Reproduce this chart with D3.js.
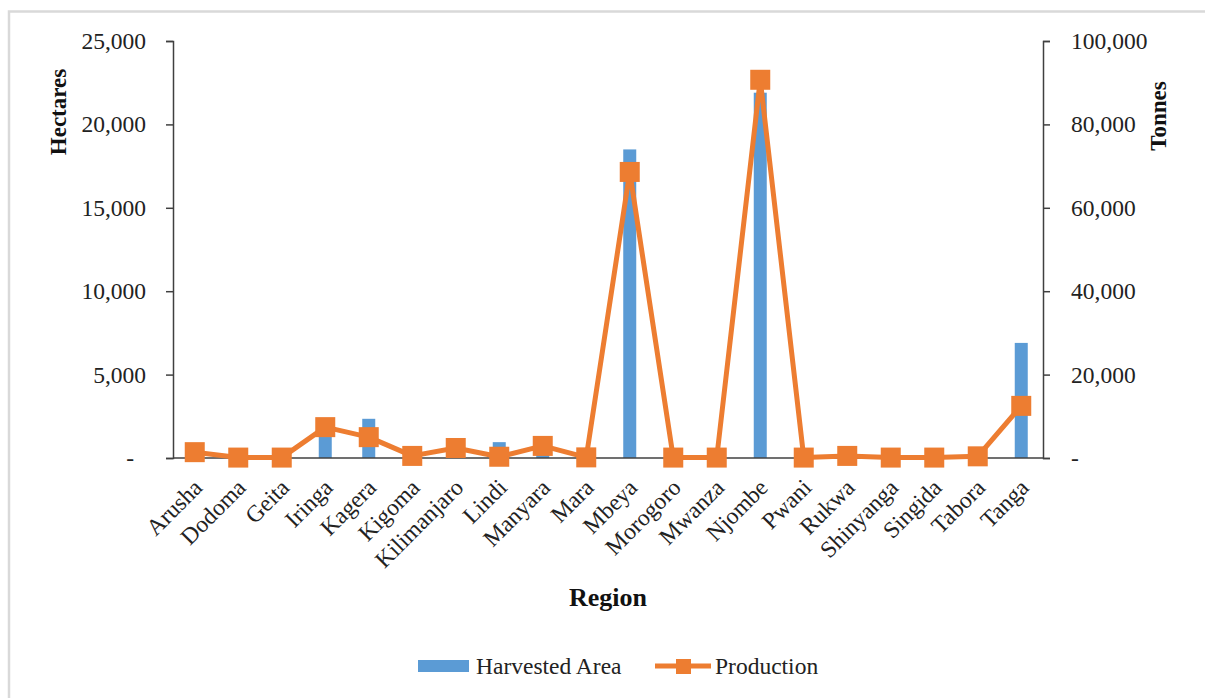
<!DOCTYPE html>
<html><head><meta charset="utf-8">
<script src="https://cdn.jsdelivr.net/npm/d3@7"></script>
<style>
html,body{margin:0;padding:0;background:#fff;}
svg text{font-family:"Liberation Serif","Times New Roman",serif;}
</style></head>
<body>
<svg id="chart" width="1205" height="698"></svg>
<script>
const regions = ["Arusha","Dodoma","Geita","Iringa","Kagera","Kigoma","Kilimanjaro","Lindi","Manyara","Mara","Mbeya","Morogoro","Mwanza","Njombe","Pwani","Rukwa","Shinyanga","Singida","Tabora","Tanga"];
const harvestedArea = [400,20,30,1900,2350,150,700,950,700,50,18500,30,10,21900,20,150,20,30,150,6900];
const production = [1400,100,100,7400,5000,500,2400,300,2900,150,68600,100,100,90700,100,500,100,100,400,12500];
const leftTicks = [0,5000,10000,15000,20000,25000];
const rightTicks = [0,20000,40000,60000,80000,100000];

const svg = d3.select("#chart");
const L = 173, R = 1043, T = 41, B = 458;
const blue = "#5B9BD5", orange = "#ED7D31", axisCol = "#404040";
const fs = 23.5;

// outer frame
svg.append("rect").attr("x",9).attr("y",11.5).attr("width",1220).attr("height",720)
  .attr("fill","none").attr("stroke","#d9d9d9").attr("stroke-width",2.5);

const x = d3.scaleBand().domain(regions).range([L,R]).padding(0);
const yL = d3.scaleLinear().domain([0,25000]).range([B,T]);
const yR = d3.scaleLinear().domain([0,100000]).range([B,T]);
const fmt = d => d === 0 ? "-" : d3.format(",")(d);

// bars
const bw = 13;
svg.append("g").selectAll("rect").data(regions).join("rect")
  .attr("x", d => x(d) + x.bandwidth()/2 - bw/2)
  .attr("y", (d,i) => yL(harvestedArea[i]))
  .attr("width", bw)
  .attr("height", (d,i) => B - yL(harvestedArea[i]))
  .attr("fill", blue);

// left axis
const gL = svg.append("g").attr("transform",`translate(${L},0)`)
  .call(d3.axisLeft(yL).tickValues(leftTicks).tickFormat(fmt).tickSize(7).tickPadding(20));
gL.select(".domain").attr("stroke",axisCol).attr("stroke-width",1.5);
gL.selectAll(".tick line").attr("stroke",axisCol).attr("stroke-width",1.5);
gL.selectAll(".tick text").attr("font-size",fs).attr("fill","#222")
  .attr("font-family","Liberation Serif, Times New Roman, serif")
  .attr("dx", d => d === 0 ? -12 : 0);

// right axis
const gR = svg.append("g").attr("transform",`translate(${R},0)`)
  .call(d3.axisRight(yR).tickValues(rightTicks).tickFormat(fmt).tickSize(7).tickPadding(21));
gR.select(".domain").attr("stroke",axisCol).attr("stroke-width",1.5);
gR.selectAll(".tick line").attr("stroke",axisCol).attr("stroke-width",1.5);
gR.selectAll(".tick text").attr("font-size",fs).attr("fill","#222")
  .attr("font-family","Liberation Serif, Times New Roman, serif");

// x axis baseline
svg.append("line").attr("x1",L).attr("x2",R).attr("y1",B).attr("y2",B)
  .attr("stroke",axisCol).attr("stroke-width",1.5);

// x labels
svg.append("g").selectAll("text").data(regions).join("text")
  .attr("transform", d => `translate(${x(d)+x.bandwidth()/2+9},${B+31}) rotate(-45)`)
  .attr("text-anchor","end")
  .attr("font-size",fs).attr("fill","#222")
  .text(d => d);

// production line
const line = d3.line().x((d,i) => x(regions[i]) + x.bandwidth()/2).y(d => yR(d));
svg.append("path").datum(production).attr("d", line)
  .attr("fill","none").attr("stroke",orange).attr("stroke-width",5).attr("stroke-linejoin","round");
const ms = 20;
svg.append("g").selectAll("rect").data(production).join("rect")
  .attr("x",(d,i) => x(regions[i]) + x.bandwidth()/2 - ms/2)
  .attr("y", d => yR(d) - ms/2)
  .attr("width",ms).attr("height",ms).attr("fill",orange);

// axis titles
svg.append("text").attr("transform","translate(66,112) rotate(-90)")
  .attr("text-anchor","middle").attr("font-size",23).attr("font-weight","bold").attr("fill","#111")
  .text("Hectares");
svg.append("text").attr("transform","translate(1166,116) rotate(-90)")
  .attr("text-anchor","middle").attr("font-size",23).attr("font-weight","bold").attr("fill","#111")
  .text("Tonnes");
svg.append("text").attr("x",608).attr("y",606)
  .attr("text-anchor","middle").attr("font-size",26).attr("font-weight","bold").attr("fill","#111")
  .text("Region");

// legend
const lg = svg.append("g");
lg.append("rect").attr("x",418).attr("y",660).attr("width",51).attr("height",12).attr("fill",blue);
lg.append("text").attr("x",476).attr("y",674).attr("font-size",fs).attr("fill","#222").text("Harvested Area");
lg.append("line").attr("x1",655).attr("x2",711).attr("y1",666).attr("y2",666)
  .attr("stroke",orange).attr("stroke-width",5);
lg.append("rect").attr("x",676).attr("y",659).attr("width",15).attr("height",15).attr("fill",orange);
lg.append("text").attr("x",715).attr("y",674).attr("font-size",fs).attr("fill","#222").text("Production");
</script>
</body></html>
